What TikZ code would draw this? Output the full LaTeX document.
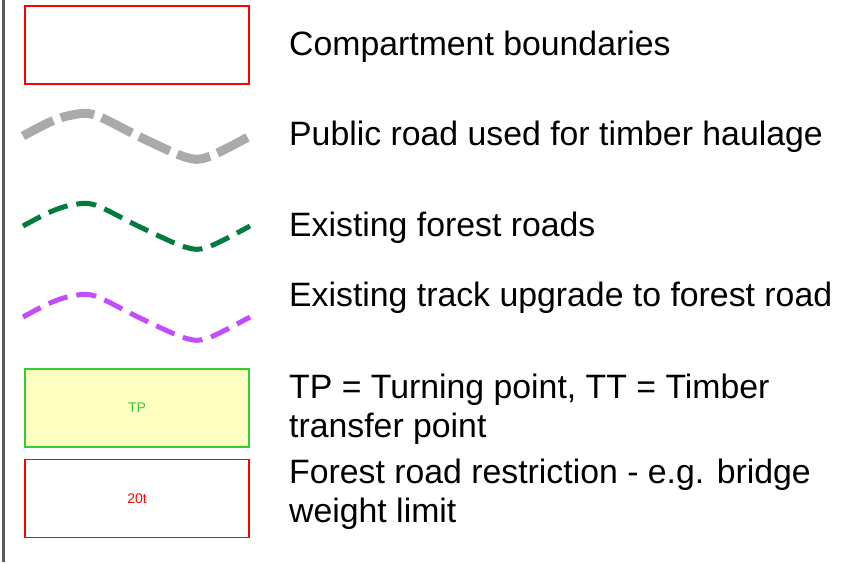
\documentclass[tikz,border=0pt]{standalone}
\usepackage{fontspec}
\setmainfont{Liberation Sans}
\definecolor{roadgray}{HTML}{AAAAAA}
\definecolor{forestgreen}{HTML}{007D3C}
\definecolor{trackpurple}{HTML}{C44CFF}
\definecolor{tpfill}{HTML}{FFFFC2}
\definecolor{tpgreen}{HTML}{33CC33}

\begin{document}
\begin{tikzpicture}[x=1pt,y=-1pt,
  legbox/.style={draw=red,line width=1.2pt,minimum width=224pt,minimum height=78pt,inner sep=0pt,font=\fontsize{14}{16}\selectfont},
  legtext/.style={anchor=base west,inner sep=0pt,align=left,font=\fontsize{33.8}{39}\selectfont}]
\useasboundingbox (0,0) rectangle (861,562);
\draw[gray!70!black,line width=2.5pt] (3.5,0) -- (3.5,562);
% symbols
\node[legbox] (comp) at (137,45) {};
\draw[roadgray,line width=9pt,dash pattern=on 34pt off 8pt,shift={(0,136)}]
  plot[smooth,tension=0.55] coordinates {(23,0) (50,-14) (72,-21) (95,-21) (140,1) (185,21) (208,21) (250,0)};
\draw[forestgreen,line width=5pt,dash pattern=on 20pt off 9pt,shift={(0,226)}]
  plot[smooth,tension=0.55] coordinates {(23,0) (50,-14) (72,-21) (95,-21) (140,1) (185,21) (208,21) (250,0)};
\draw[trackpurple,line width=5pt,dash pattern=on 20pt off 9pt,shift={(0,317)}]
  plot[smooth,tension=0.55] coordinates {(23,0) (50,-14) (72,-21) (95,-21) (140,1) (185,21) (208,21) (250,0)};
\node[legbox,draw=tpgreen,fill=tpfill,text=tpgreen] (tp) at (137,408) {TP};
\node[legbox,text=red] (limit) at (137,498.5) {20t};
% labels (two-line labels sit on their last baseline)
\node[legtext] (compl) at (289,55) {Compartment boundaries};
\node[legtext] (publ) at (289,145) {Public road used for timber haulage};
\node[legtext] (forl) at (289,236) {Existing forest roads};
\node[legtext] (trackl) at (289,306) {Existing track upgrade to forest road};
\node[legtext] (tpl) at (289,437) {TP = Turning point, TT = Timber\\transfer point};
\node[legtext] (limitl) at (289,522) {Forest road restriction - e.g. bridge\\weight limit};
\end{tikzpicture}
\end{document}
